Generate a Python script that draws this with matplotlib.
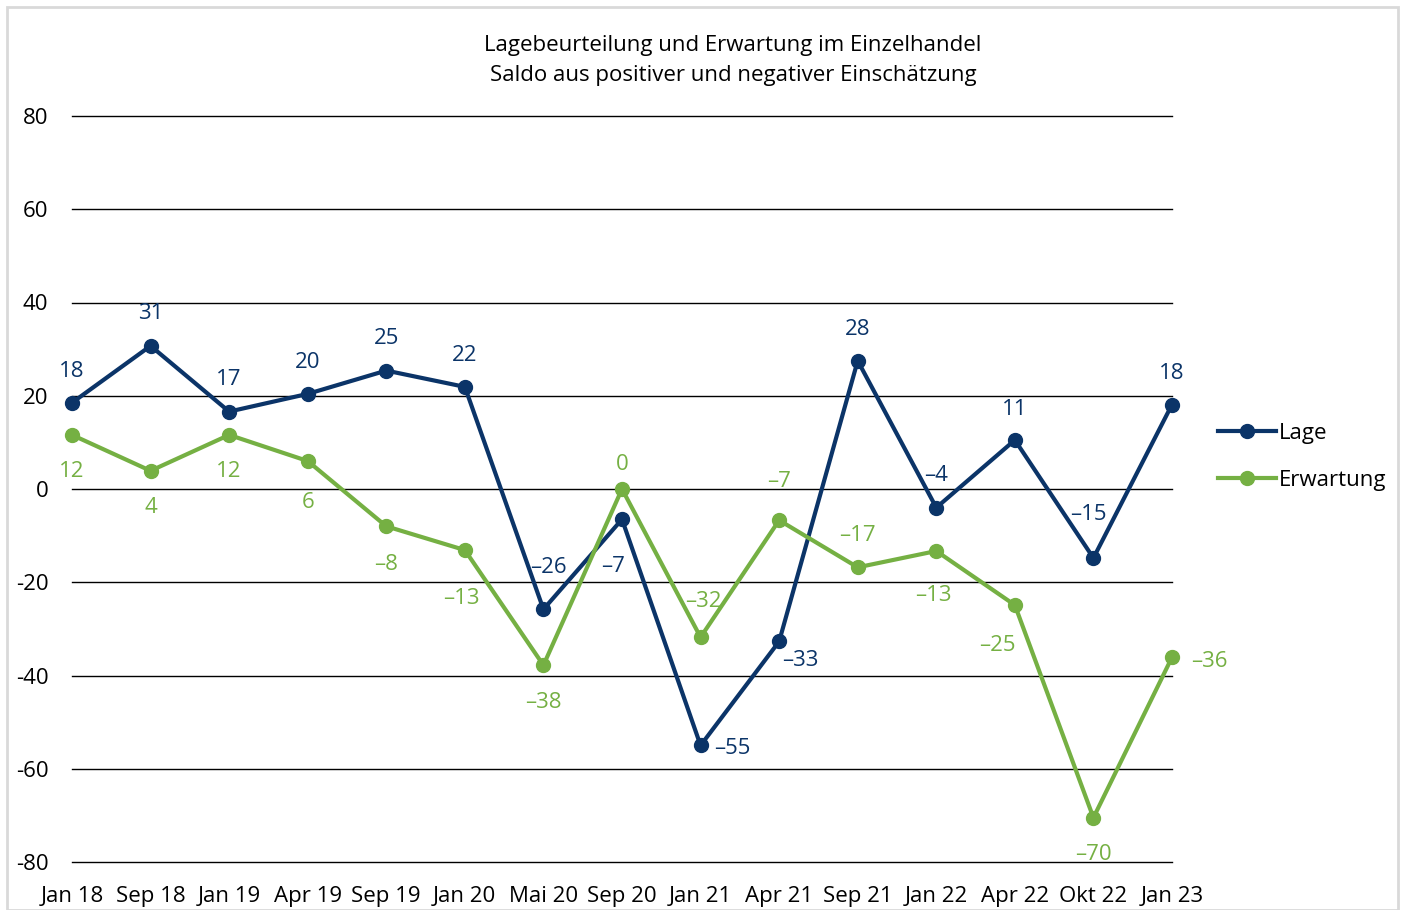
import matplotlib.pyplot as plt
from matplotlib.patches import Rectangle

# Daten
monate = ["Jan 18", "Sep 18", "Jan 19", "Apr 19", "Sep 19", "Jan 20", "Mai 20", "Sep 20",
          "Jan 21", "Apr 21", "Sep 21", "Jan 22", "Apr 22", "Okt 22", "Jan 23"]
lage = [18.5, 30.7, 16.6, 20.4, 25.4, 21.9, -25.8, -6.5, -55, -32.7, 27.5, -4, 10.5, -14.8, 18.1]
lage_labels = [18, 31, 17, 20, 25, 22, -26, -7, -55, -33, 28, -4, 11, -15, 18]
erwartung = [11.6, 3.9, 11.6, 6, -8, -13.1, -37.8, 0, -31.8, -6.7, -16.8, -13.3, -24.9, -70.5, -36.1]
erwartung_labels = [12, 4, 12, 6, -8, -13, -38, 0, -32, -7, -17, -13, -25, -70, -36]

# Label-Versatz in Pixeln (dx, dy)
lage_off = [(0, 31), (0, 32), (0, 32), (0, 31), (0, 32), (0, 31), (5, 42), (-9, -47),
            (32, -3), (21, -19), (0, 31), (0, 32), (0, 31), (-5, 44), (0, 31)]
erw_off = [(0, -37), (0, -37), (0, -37), (0, -41), (0, -38), (-3, -48), (0, -37), (0, 24),
           (3, 36), (0, 39), (0, 32), (-3, -44), (-17, -40), (0, -37), (37, -4)]

navy = "#0b3468"
green = "#75b043"

plt.rcParams['font.family'] = ['Open Sans', 'DejaVu Sans']

fig = plt.figure(figsize=(14.07, 9.10), dpi=100)
ax = fig.add_axes([72 / 1407, 1 - 862 / 910, 1100 / 1407, 746 / 910])

x = list(range(len(monate)))
ax.plot(x, lage, color=navy, lw=3, marker="o", ms=10, label="Lage", zorder=3, clip_on=False)
ax.plot(x, erwartung, color=green, lw=3, marker="o", ms=10, label="Erwartung", zorder=3, clip_on=False)

def fmt(v):
    return str(v).replace("-", "\u2013")

for i in x:
    ax.annotate(fmt(lage_labels[i]), (i, lage[i]), xytext=lage_off[i], textcoords="offset pixels",
                ha="center", va="center", color=navy, fontsize=16)
    ax.annotate(fmt(erwartung_labels[i]), (i, erwartung[i]), xytext=erw_off[i], textcoords="offset pixels",
                ha="center", va="center", color=green, fontsize=16)

ax.set_xlim(0, len(monate) - 1)
ax.set_ylim(-80, 80)
ax.set_yticks(range(-80, 81, 20))
ax.set_yticklabels([str(v) for v in range(-80, 81, 20)])
ax.set_xticks(x)
ax.set_xticklabels(monate)
ax.grid(axis="y", color="black", lw=1)
for gl in ax.get_ygridlines():
    gl.set_clip_on(False)
ax.set_axisbelow(True)
for s in ax.spines.values():
    s.set_visible(False)
ax.tick_params(axis="both", length=0, labelsize=16, colors="black")
ax.tick_params(axis="y", pad=17)
ax.tick_params(axis="x", pad=17)
for lbl in ax.get_yticklabels():
    lbl.set_horizontalalignment("right")

fig.text(733 / 1407, 1 - 45 / 910, "Lagebeurteilung und Erwartung im Einzelhandel",
         ha="center", va="center", fontsize=16)
fig.text(733 / 1407, 1 - 76 / 910, "Saldo aus positiver und negativer Einschätzung",
         ha="center", va="center", fontsize=16)

ax.legend(loc="center left", bbox_to_anchor=(1218 / 1407, 1 - 457 / 910), bbox_transform=fig.transFigure,
          frameon=False, fontsize=16, handlelength=2.6, handletextpad=0.15, labelspacing=1.15,
          borderaxespad=0, borderpad=0)

fig.patches.append(Rectangle((7 / 1407, 0), 1391 / 1407, 1 - 7 / 910, transform=fig.transFigure,
                             fill=False, edgecolor="#d9d9d9", lw=2))

fig.savefig("out.png", dpi=100)
